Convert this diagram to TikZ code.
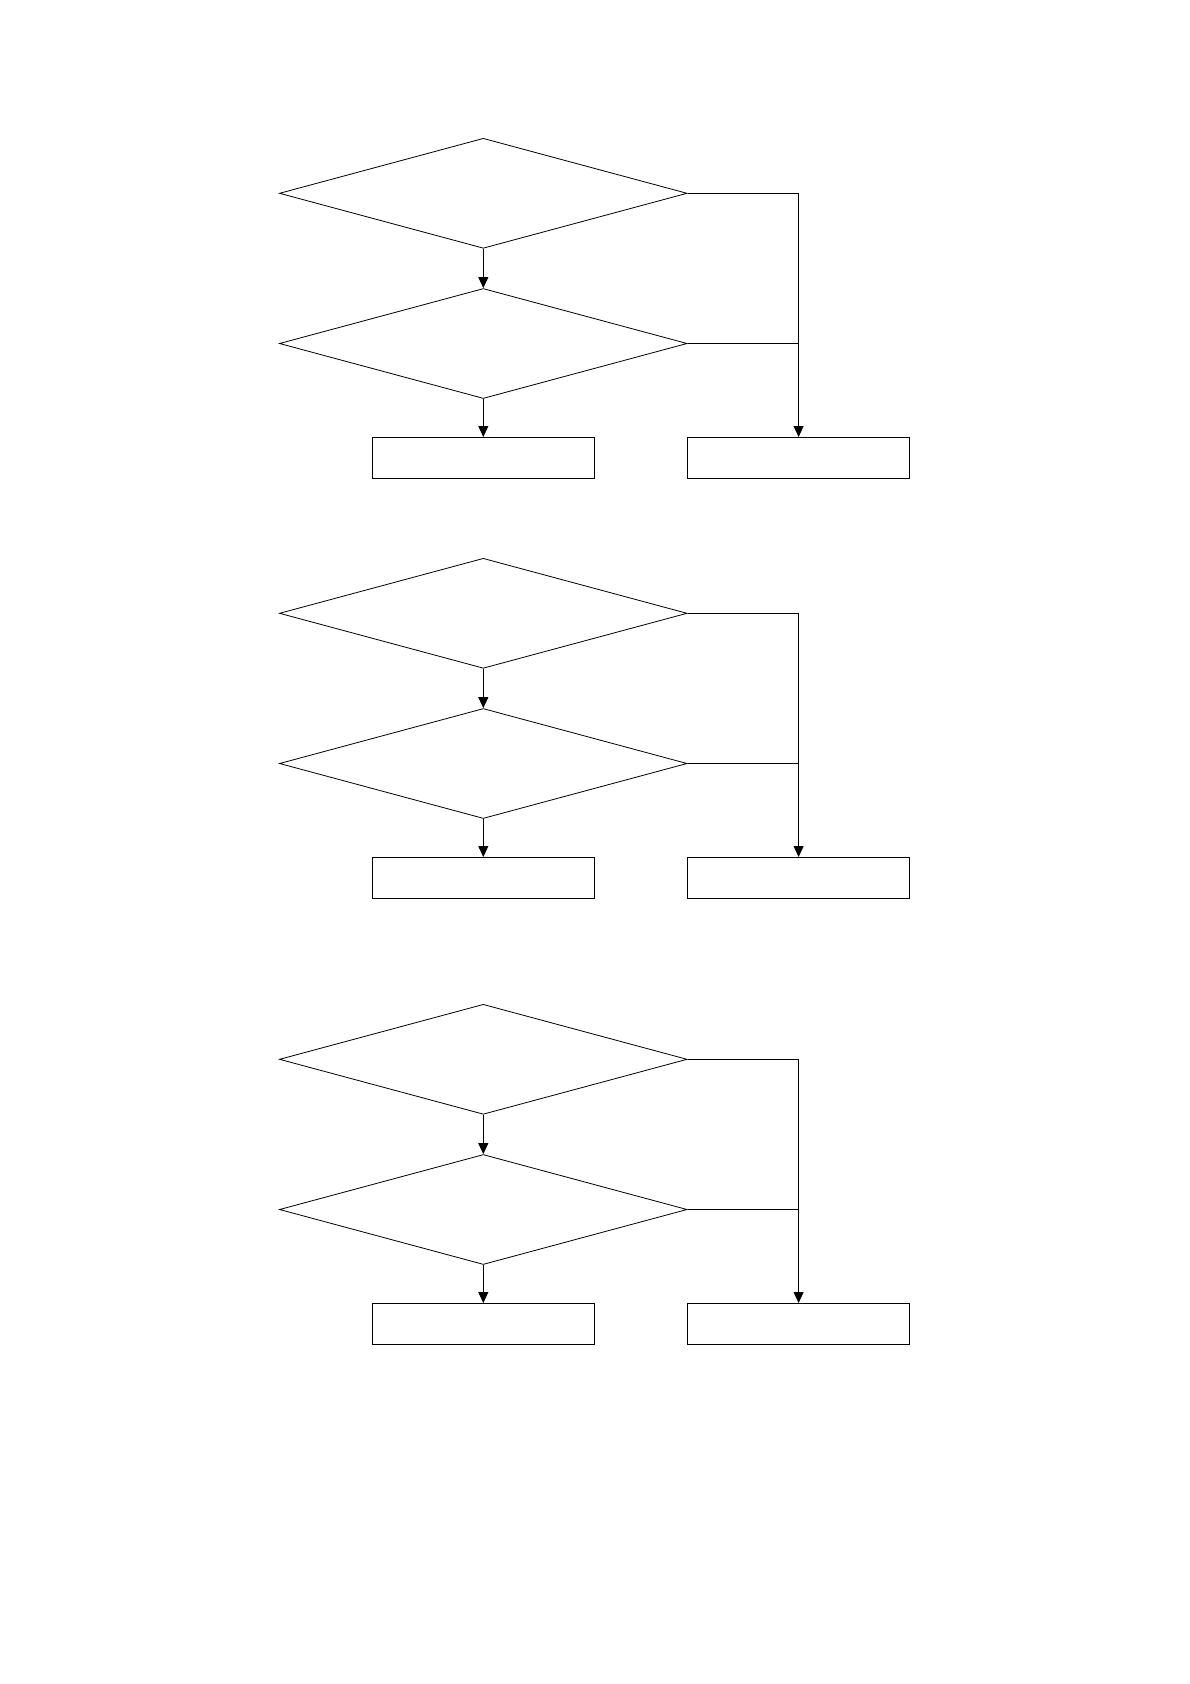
\documentclass[tikz,border=0pt]{standalone}
\usetikzlibrary{shapes.geometric,arrows.meta}
\begin{document}
\begin{tikzpicture}[x=1pt,y=-1pt,
  line width=0.8pt,
  decision/.style={draw,diamond,inner sep=0pt,minimum width=407.7pt,minimum height=110pt},
  proc/.style={draw,rectangle,inner sep=0pt,minimum width=222.3pt,minimum height=40.8pt},
  arr/.style={-{Triangle[length=11pt,width=10pt]}}]
\useasboundingbox (0,0) rectangle (1190,1684);
\foreach \g/\c in {a/193.3,b/613.3,c/1059.3}{
  \node[decision] (\g d1) at (483.3,\c) {};
  \node[decision] (\g d2) at (483.3,\c+150.2) {};
  \node[proc] (\g p1) at (483.3,\c+264.5) {};
  \node[proc] (\g p2) at (798.6,\c+264.5) {};
  \coordinate (\g j1) at (\g p2.north |- \g d1.east);
  \coordinate (\g j2) at (\g p2.north |- \g d2.east);
  \draw[arr] (\g d1.south) -- (\g d2.north);
  \draw[arr] (\g d2.south) -- (\g p1.north);
  \draw (\g d1.east) -- (\g j1);
  \draw (\g d2.east) -- (\g j2);
  \draw[arr] (\g j1) -- (\g p2.north);
}
\end{tikzpicture}
\end{document}
